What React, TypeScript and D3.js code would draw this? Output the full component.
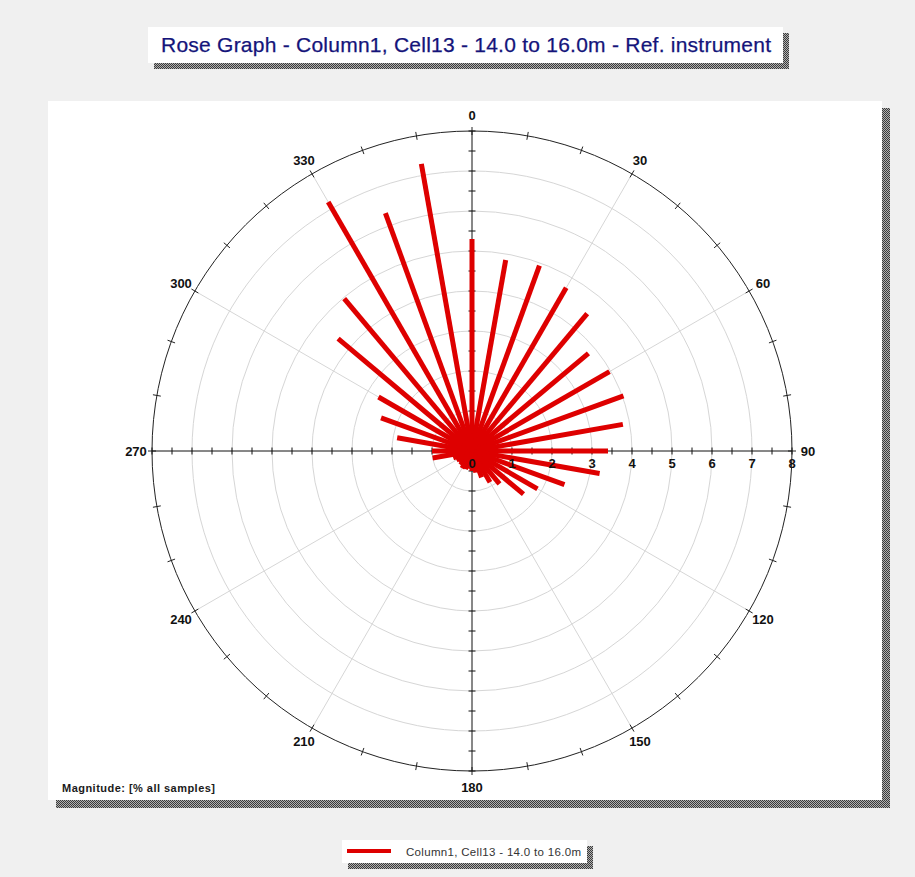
import React from "react";
import * as d3 from "d3";

// ---- Data ----
const directions = [0, 10, 20, 30, 40, 50, 60, 70, 80, 90, 100, 110, 120, 130, 140, 150, 160, 170,
  180, 190, 200, 210, 220, 230, 240, 250, 260, 270, 280, 290, 300, 310, 320, 330, 340, 350];
const magnitudes = [5.3, 4.85, 4.93, 4.71, 4.48, 3.8, 3.97, 4.03, 3.83, 3.4, 3.24, 2.46, 1.89, 1.68,
  1.07, 0.9, 0.7, 0.55, 0.5, 0.45, 0.48, 0.5, 0.45, 0.42, 0.45, 0.5, 1.0, 1.0, 1.9, 2.42, 2.7,
  4.37, 4.97, 7.19, 6.33, 7.29];
const angleLabels = ["0", "30", "60", "90", "120", "150", "180", "210", "240", "270", "300", "330"];
const radialTickLabels = ["0", "1", "2", "3", "4", "5", "6", "7", "8"];
const titleText = "Rose Graph - Column1, Cell13 - 14.0 to 16.0m - Ref. instrument";
const seriesName = "Column1, Cell13 - 14.0 to 16.0m";
const magnitudeLabel = "Magnitude: [% all samples]";

const W = 915, H = 877;
const cx = 472, cy = 451, R = 320;
const rScale = d3.scaleLinear().domain([0, 8]).range([0, R]);
const FONT = "'Liberation Sans', Arial, sans-serif";

const pt = (deg: number, r: number) => {
  const a = (deg * Math.PI) / 180;
  return [cx + r * Math.sin(a), cy - r * Math.cos(a)];
};

export default function App() {
  const gridCircles = d3.range(1, 8);
  const halfTicks = d3.range(0.5, 8.01, 0.5);
  const circleTicks = d3.range(0, 360, 10);
  const spokes = d3.range(30, 360, 30).filter((d) => d % 90 !== 0);
  return (
    <svg width={W} height={H} style={{ position: "absolute", left: 0, top: 0 }}
      xmlns="http://www.w3.org/2000/svg">
      <defs>
        <pattern id="dither" width="2" height="2" patternUnits="userSpaceOnUse">
          <rect width="2" height="2" fill="#b0b0b0" />
          <rect width="1" height="1" fill="#3a3a3a" />
          <rect x="1" y="1" width="1" height="1" fill="#3a3a3a" />
        </pattern>
      </defs>
      <rect width={W} height={H} fill="#f0f0f0" />

      {/* Title box */}
      <rect x={154} y={33} width={635} height={36} fill="url(#dither)" />
      <rect x={148} y={27} width={635} height={36} fill="#ffffff" />
      <text x={161} y={52} textLength={610} lengthAdjust="spacing" fontFamily={FONT} fontSize={21}
        fill="#14147a" stroke="#14147a" strokeWidth={0.25}>{titleText}</text>

      {/* Panel */}
      <rect x={56} y={108} width={834} height={700} fill="url(#dither)" />
      <rect x={48} y={101} width={834} height={699} fill="#ffffff" />

      {/* grid circles */}
      {gridCircles.map((v) => (
        <circle key={"c" + v} cx={cx} cy={cy} r={rScale(v)} fill="none" stroke="#d6d6d6" strokeWidth={1} />
      ))}
      {/* spokes */}
      {spokes.map((d) => {
        const [x, y] = pt(d, R);
        return <line key={"s" + d} x1={cx} y1={cy} x2={x} y2={y} stroke="#d6d6d6" strokeWidth={1} />;
      })}
      {/* outer circle */}
      <circle cx={cx} cy={cy} r={R} fill="none" stroke="#222" strokeWidth={1} />
      {circleTicks.map((d) => {
        const [x1, y1] = pt(d, R - 4);
        const [x2, y2] = pt(d, R + 4);
        return <line key={"ct" + d} x1={x1} y1={y1} x2={x2} y2={y2} stroke="#222" strokeWidth={1} />;
      })}
      {/* axes */}
      <line x1={cx - R} y1={cy} x2={cx + R} y2={cy} stroke="#111" strokeWidth={1} />
      <line x1={cx} y1={cy - R} x2={cx} y2={cy + R} stroke="#111" strokeWidth={1} />
      {halfTicks.map((v) => {
        const r = rScale(v);
        return (
          <g key={"ht" + v} stroke="#111" strokeWidth={1}>
            <line x1={cx + r} y1={cy - 3.5} x2={cx + r} y2={cy + 3.5} />
            <line x1={cx - r} y1={cy - 3.5} x2={cx - r} y2={cy + 3.5} />
            <line x1={cx - 3.5} y1={cy + r} x2={cx + 3.5} y2={cy + r} />
            <line x1={cx - 3.5} y1={cy - r} x2={cx + 3.5} y2={cy - r} />
          </g>
        );
      })}

      {/* bars */}
      {directions.map((d, i) => {
        const [x, y] = pt(d, rScale(magnitudes[i]));
        return <line key={"b" + d} x1={cx} y1={cy} x2={x} y2={y} stroke="#de0000" strokeWidth={5} />;
      })}

      {/* radial tick labels */}
      {radialTickLabels.map((t, i) => (
        <text key={"rl" + t} x={cx + rScale(i)} y={cy + 17} textAnchor="middle" fontFamily={FONT}
          fontSize={13} fontWeight="bold" fill="#111">{t}</text>
      ))}

      {/* angle labels */}
      {angleLabels.map((t) => {
        const [x, y] = pt(+t, R + 16);
        return (
          <text key={"al" + t} x={x} y={y} textAnchor="middle" dominantBaseline="central"
            fontFamily={FONT} fontSize={13} fontWeight="bold" fill="#111">{t}</text>
        );
      })}

      <text x={62} y={792} textLength={153} lengthAdjust="spacing" fontFamily={FONT} fontSize={11}
        fontWeight="bold" fill="#1a1a1a">{magnitudeLabel}</text>

      {/* Legend */}
      <rect x={348} y={846} width={245} height={23} fill="url(#dither)" />
      <rect x={342} y={840} width={245} height={23} fill="#ffffff" />
      <line x1={347} y1={851} x2={391} y2={851} stroke="#de0000" strokeWidth={4} />
      <text x={406} y={856} textLength={175} lengthAdjust="spacing" fontFamily={FONT} fontSize={11.5}
        fill="#333">{seriesName}</text>
    </svg>
  );
}
